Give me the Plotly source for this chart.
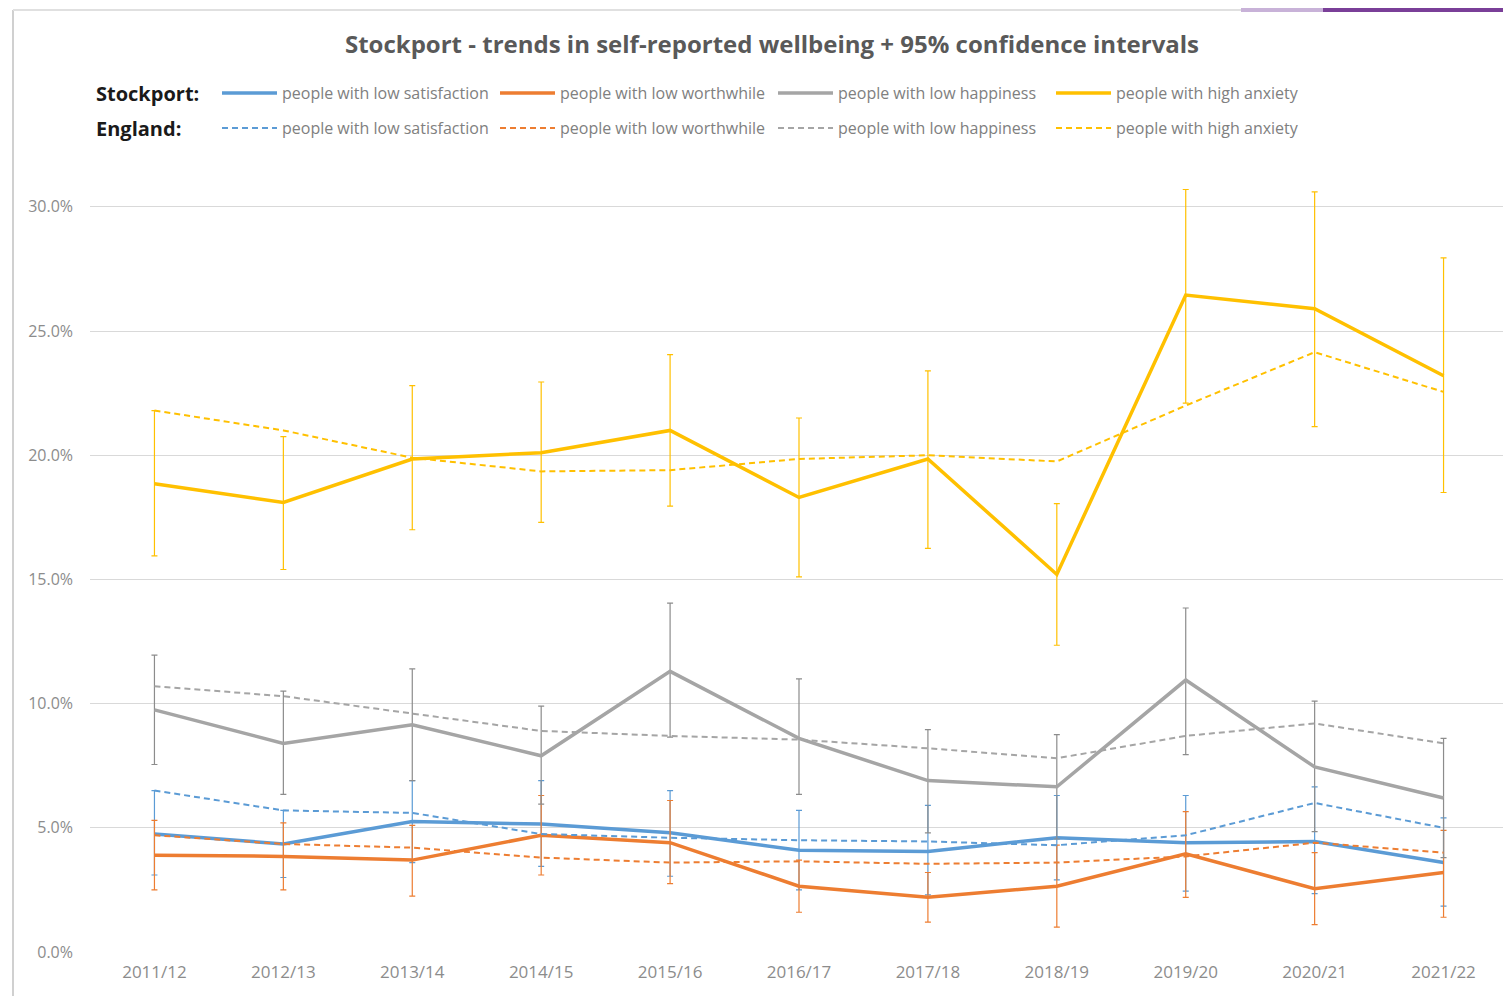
import plotly.graph_objects as go

# 年度
years = ["2011/12", "2012/13", "2013/14", "2014/15", "2015/16", "2016/17",
         "2017/18", "2018/19", "2019/20", "2020/21", "2021/22"]

# Stockport (値 + 95%信頼区間の上限・下限, %)
stk_satisfaction = [4.75, 4.35, 5.25, 5.15, 4.8, 4.1, 4.05, 4.6, 4.4, 4.45, 3.6]
stk_sat_upper = [6.5, 5.7, 6.9, 6.9, 6.5, 5.7, 5.9, 6.3, 6.3, 6.65, 5.4]
stk_sat_lower = [3.1, 3.0, 3.6, 3.45, 3.05, 2.5, 2.3, 2.9, 2.45, 2.35, 1.85]

stk_worthwhile = [3.9, 3.85, 3.7, 4.7, 4.4, 2.65, 2.2, 2.65, 3.95, 2.55, 3.2]
stk_wor_upper = [5.3, 5.2, 5.1, 6.3, 6.1, 3.7, 3.2, 4.3, 5.65, 4.0, 4.9]
stk_wor_lower = [2.5, 2.5, 2.25, 3.1, 2.75, 1.6, 1.2, 1.0, 2.2, 1.1, 1.4]

stk_happiness = [9.75, 8.4, 9.15, 7.9, 11.3, 8.6, 6.9, 6.65, 10.95, 7.45, 6.2]
stk_hap_upper = [11.95, 10.5, 11.4, 9.9, 14.05, 11.0, 8.95, 8.75, 13.85, 10.1, 8.6]
stk_hap_lower = [7.55, 6.35, 6.9, 5.95, 8.65, 6.35, 4.8, 4.55, 7.95, 4.85, 3.8]

stk_anxiety = [18.85, 18.1, 19.85, 20.1, 21.0, 18.3, 19.85, 15.2, 26.45, 25.9, 23.2]
stk_anx_upper = [21.8, 20.75, 22.8, 22.95, 24.05, 21.5, 23.4, 18.05, 30.7, 30.6, 27.95]
stk_anx_lower = [15.95, 15.4, 17.0, 17.3, 17.95, 15.1, 16.25, 12.35, 22.1, 21.15, 18.5]

# England
eng_satisfaction = [6.5, 5.7, 5.6, 4.75, 4.6, 4.5, 4.45, 4.3, 4.7, 6.0, 5.0]
eng_worthwhile = [4.7, 4.35, 4.2, 3.8, 3.6, 3.65, 3.55, 3.6, 3.85, 4.4, 4.0]
eng_happiness = [10.7, 10.3, 9.6, 8.9, 8.7, 8.55, 8.2, 7.8, 8.7, 9.2, 8.4]
eng_anxiety = [21.8, 21.0, 19.9, 19.35, 19.4, 19.85, 20.0, 19.75, 22.0, 24.15, 22.55]

measures = ["people with low satisfaction", "people with low worthwhile",
            "people with low happiness", "people with high anxiety"]
colors = ["#5b9bd5", "#ed7d31", "#a5a5a5", "#ffc000"]
err_colors = ["#5b9bd5", "#ed7d31", "#8c8c8c", "#ffc000"]

stk = [
    (stk_satisfaction, stk_sat_upper, stk_sat_lower),
    (stk_worthwhile, stk_wor_upper, stk_wor_lower),
    (stk_happiness, stk_hap_upper, stk_hap_lower),
    (stk_anxiety, stk_anx_upper, stk_anx_lower),
]
eng = [eng_satisfaction, eng_worthwhile, eng_happiness, eng_anxiety]

# ページ余白 (body margin 8px) を考慮したピクセル座標
OFF = 8
W_PX, H_PX = 1511 - OFF, 996 - OFF
L, R, T, B = 90 - OFF, 1508 - OFF, 187 - OFF, 952 - OFF


def px_x(p):
    return (p - OFF - L) / (R - L)


def px_y(p):
    return (B - (p - OFF)) / (B - T)


fig = go.Figure()

for i in range(4):
    vals, up, lo = stk[i]
    fig.add_trace(go.Scatter(
        x=years, y=vals, mode="lines", name=measures[i],
        line=dict(color=colors[i], width=3.5),
        error_y=dict(type="data", symmetric=False,
                     array=[u - v for u, v in zip(up, vals)],
                     arrayminus=[v - l for v, l in zip(vals, lo)],
                     color=err_colors[i], thickness=1.2, width=3),
        legend="legend",
    ))

for i in range(4):
    fig.add_trace(go.Scatter(
        x=years, y=eng[i], mode="lines", name=measures[i],
        line=dict(color=colors[i], width=2, dash="6px,4px"),
        legend="legend2",
    ))

legend_common = dict(
    orientation="h", xanchor="left", yanchor="middle",
    font=dict(family="Open Sans", size=16, color="#808080"),
    itemwidth=55, entrywidth=208, entrywidthmode="pixels",
    bgcolor="rgba(0,0,0,0)", tracegroupgap=0,
)

fig.update_layout(
    width=W_PX, height=H_PX,
    margin=dict(l=L, r=W_PX - R, t=T, b=H_PX - B),
    paper_bgcolor="white", plot_bgcolor="white",
    title=dict(text="<b>Stockport - trends in self-reported wellbeing + 95% confidence intervals</b>",
               x=px_x(772), xref="paper", xanchor="center",
               y=1 - (45 - OFF) / H_PX, yref="container", yanchor="middle",
               font=dict(family="Open Sans", size=24, color="#595959")),
    legend=dict(x=px_x(217), y=px_y(93), **legend_common),
    legend2=dict(x=px_x(217), y=px_y(128), **legend_common),
    xaxis=dict(range=[-0.5, len(years) - 0.5], showgrid=False, showline=False, ticks="",
               tickfont=dict(family="Open Sans", size=17, color="#8c8c8c"),
               ticklabelstandoff=8),
    yaxis=dict(range=[0, 30.8], tickvals=[0, 5, 10, 15, 20, 25, 30],
               ticktext=["0.0%", "5.0%", "10.0%", "15.0%", "20.0%", "25.0%", "30.0%"],
               showgrid=True, gridcolor="#d9d9d9", gridwidth=1, zeroline=False,
               showline=False, ticks="",
               tickfont=dict(family="Open Sans", size=16, color="#8c8c8c"),
               ticklabelstandoff=16),
    showlegend=True,
)

# 凡例のラベル
fig.add_annotation(text="<b>Stockport:</b>", xref="paper", yref="paper",
                   x=px_x(94), y=px_y(93), xanchor="left", yanchor="middle",
                   showarrow=False, font=dict(family="Open Sans", size=20, color="#1a1a1a"))
fig.add_annotation(text="<b>England:</b>", xref="paper", yref="paper",
                   x=px_x(94), y=px_y(128), xanchor="left", yanchor="middle",
                   showarrow=False, font=dict(family="Open Sans", size=20, color="#1a1a1a"))

# 枠
fig.add_shape(type="line", xref="paper", yref="paper",
              x0=px_x(13), x1=px_x(13), y0=px_y(10), y1=px_y(996),
              line=dict(color="#d0d0d0", width=2))
fig.add_shape(type="line", xref="paper", yref="paper",
              x0=px_x(13), x1=px_x(1241), y0=px_y(10), y1=px_y(10),
              line=dict(color="#e0e0e0", width=2))
# 右上の帯 (ページ余白の分だけ下にずれる)
fig.add_shape(type="rect", xref="paper", yref="paper",
              x0=px_x(1241), x1=px_x(1323), y0=px_y(12), y1=px_y(8),
              fillcolor="#c8b2d8", line_width=0)
fig.add_shape(type="rect", xref="paper", yref="paper",
              x0=px_x(1323), x1=px_x(1511), y0=px_y(12), y1=px_y(8),
              fillcolor="#7a3f98", line_width=0)

fig.write_html("out.html")
